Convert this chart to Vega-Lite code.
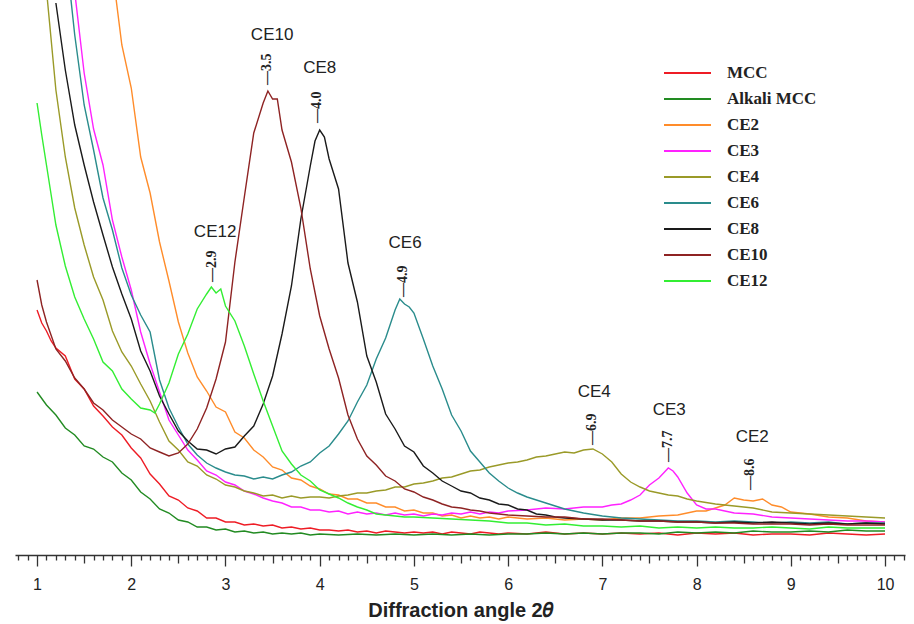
{
"$schema": "https://vega.github.io/schema/vega-lite/v6.json",
"width": 890, "height": 555,
"autosize": {"type": "none"},
"padding": {"left": 15, "top": 0, "right": 9, "bottom": 69},
"background": "white",
"config": {"view": {"stroke": null}, "font": "Liberation Sans"},
"datasets": {
"curves": [
{"s":"MCC","x":1,"y":245},{"s":"MCC","x":1.05,"y":232},{"s":"MCC","x":1.1,"y":224},{"s":"MCC","x":1.15,"y":214},{"s":"MCC","x":1.2,"y":207},{"s":"MCC","x":1.3,"y":199},{"s":"MCC","x":1.4,"y":176},{"s":"MCC","x":1.5,"y":166},{"s":"MCC","x":1.6,"y":149},{"s":"MCC","x":1.7,"y":139},{"s":"MCC","x":1.8,"y":128},{"s":"MCC","x":1.9,"y":120},{"s":"MCC","x":2,"y":107},{"s":"MCC","x":2.1,"y":97},{"s":"MCC","x":2.2,"y":81},{"s":"MCC","x":2.3,"y":71},{"s":"MCC","x":2.4,"y":59},{"s":"MCC","x":2.5,"y":55},{"s":"MCC","x":2.6,"y":47},{"s":"MCC","x":2.7,"y":44},{"s":"MCC","x":2.8,"y":37},{"s":"MCC","x":2.9,"y":37},{"s":"MCC","x":3,"y":33},{"s":"MCC","x":3.1,"y":33},{"s":"MCC","x":3.2,"y":30},{"s":"MCC","x":3.3,"y":31},{"s":"MCC","x":3.4,"y":29},{"s":"MCC","x":3.5,"y":30},{"s":"MCC","x":3.6,"y":27},{"s":"MCC","x":3.7,"y":28},{"s":"MCC","x":3.8,"y":26},{"s":"MCC","x":3.9,"y":27},{"s":"MCC","x":4,"y":25},{"s":"MCC","x":4.1,"y":25},{"s":"MCC","x":4.2,"y":24},{"s":"MCC","x":4.3,"y":25},{"s":"MCC","x":4.4,"y":23},{"s":"MCC","x":4.5,"y":24},{"s":"MCC","x":4.6,"y":22},{"s":"MCC","x":4.7,"y":24},{"s":"MCC","x":4.8,"y":23},{"s":"MCC","x":4.9,"y":22},{"s":"MCC","x":5,"y":23},{"s":"MCC","x":5.1,"y":22},{"s":"MCC","x":5.2,"y":23},{"s":"MCC","x":5.3,"y":21},{"s":"MCC","x":5.4,"y":23},{"s":"MCC","x":5.5,"y":22},{"s":"MCC","x":5.6,"y":21},{"s":"MCC","x":5.7,"y":23},{"s":"MCC","x":5.8,"y":22},{"s":"MCC","x":5.9,"y":21},{"s":"MCC","x":6,"y":22},{"s":"MCC","x":6.2,"y":21},{"s":"MCC","x":6.4,"y":23},{"s":"MCC","x":6.6,"y":21},{"s":"MCC","x":6.8,"y":22},{"s":"MCC","x":7,"y":21},{"s":"MCC","x":7.2,"y":22},{"s":"MCC","x":7.4,"y":21},{"s":"MCC","x":7.6,"y":22},{"s":"MCC","x":7.8,"y":20},{"s":"MCC","x":8,"y":22},{"s":"MCC","x":8.2,"y":21},{"s":"MCC","x":8.4,"y":22},{"s":"MCC","x":8.6,"y":20},{"s":"MCC","x":8.8,"y":21},{"s":"MCC","x":9,"y":21},{"s":"MCC","x":9.2,"y":20},{"s":"MCC","x":9.4,"y":22},{"s":"MCC","x":9.6,"y":21},{"s":"MCC","x":9.8,"y":20},{"s":"MCC","x":10,"y":21},
{"s":"Alkali MCC","x":1,"y":163},{"s":"Alkali MCC","x":1.1,"y":150},{"s":"Alkali MCC","x":1.2,"y":140},{"s":"Alkali MCC","x":1.3,"y":127},{"s":"Alkali MCC","x":1.4,"y":120},{"s":"Alkali MCC","x":1.5,"y":109},{"s":"Alkali MCC","x":1.6,"y":106},{"s":"Alkali MCC","x":1.7,"y":98},{"s":"Alkali MCC","x":1.8,"y":93},{"s":"Alkali MCC","x":1.9,"y":82},{"s":"Alkali MCC","x":2,"y":75},{"s":"Alkali MCC","x":2.1,"y":63},{"s":"Alkali MCC","x":2.2,"y":56},{"s":"Alkali MCC","x":2.3,"y":46},{"s":"Alkali MCC","x":2.4,"y":42},{"s":"Alkali MCC","x":2.5,"y":35},{"s":"Alkali MCC","x":2.6,"y":33},{"s":"Alkali MCC","x":2.7,"y":28},{"s":"Alkali MCC","x":2.8,"y":28},{"s":"Alkali MCC","x":2.9,"y":25},{"s":"Alkali MCC","x":3,"y":26},{"s":"Alkali MCC","x":3.1,"y":23},{"s":"Alkali MCC","x":3.2,"y":24},{"s":"Alkali MCC","x":3.3,"y":22},{"s":"Alkali MCC","x":3.4,"y":23},{"s":"Alkali MCC","x":3.5,"y":21},{"s":"Alkali MCC","x":3.6,"y":22},{"s":"Alkali MCC","x":3.7,"y":21},{"s":"Alkali MCC","x":3.8,"y":22},{"s":"Alkali MCC","x":3.9,"y":20},{"s":"Alkali MCC","x":4,"y":21},{"s":"Alkali MCC","x":4.2,"y":20},{"s":"Alkali MCC","x":4.4,"y":21},{"s":"Alkali MCC","x":4.6,"y":20},{"s":"Alkali MCC","x":4.8,"y":21},{"s":"Alkali MCC","x":5,"y":20},{"s":"Alkali MCC","x":5.2,"y":21},{"s":"Alkali MCC","x":5.4,"y":20},{"s":"Alkali MCC","x":5.6,"y":21},{"s":"Alkali MCC","x":5.8,"y":20},{"s":"Alkali MCC","x":6,"y":21},{"s":"Alkali MCC","x":6.2,"y":21},{"s":"Alkali MCC","x":6.4,"y":22},{"s":"Alkali MCC","x":6.6,"y":21},{"s":"Alkali MCC","x":6.8,"y":22},{"s":"Alkali MCC","x":7,"y":21},{"s":"Alkali MCC","x":7.2,"y":22},{"s":"Alkali MCC","x":7.4,"y":22},{"s":"Alkali MCC","x":7.6,"y":21},{"s":"Alkali MCC","x":7.8,"y":23},{"s":"Alkali MCC","x":8,"y":22},{"s":"Alkali MCC","x":8.2,"y":23},{"s":"Alkali MCC","x":8.4,"y":22},{"s":"Alkali MCC","x":8.6,"y":24},{"s":"Alkali MCC","x":8.8,"y":23},{"s":"Alkali MCC","x":9,"y":23},{"s":"Alkali MCC","x":9.2,"y":24},{"s":"Alkali MCC","x":9.4,"y":23},{"s":"Alkali MCC","x":9.6,"y":25},{"s":"Alkali MCC","x":9.8,"y":24},{"s":"Alkali MCC","x":10,"y":24},
{"s":"CE2","x":1.8,"y":585},{"s":"CE2","x":1.9,"y":510},{"s":"CE2","x":2,"y":467},{"s":"CE2","x":2.1,"y":398},{"s":"CE2","x":2.2,"y":362},{"s":"CE2","x":2.3,"y":313},{"s":"CE2","x":2.4,"y":274},{"s":"CE2","x":2.5,"y":233},{"s":"CE2","x":2.6,"y":202},{"s":"CE2","x":2.7,"y":178},{"s":"CE2","x":2.8,"y":164},{"s":"CE2","x":2.9,"y":148},{"s":"CE2","x":3,"y":143},{"s":"CE2","x":3.1,"y":123},{"s":"CE2","x":3.2,"y":117},{"s":"CE2","x":3.3,"y":105},{"s":"CE2","x":3.4,"y":98},{"s":"CE2","x":3.5,"y":88},{"s":"CE2","x":3.6,"y":85},{"s":"CE2","x":3.7,"y":77},{"s":"CE2","x":3.8,"y":75},{"s":"CE2","x":3.9,"y":69},{"s":"CE2","x":4,"y":66},{"s":"CE2","x":4.1,"y":61},{"s":"CE2","x":4.2,"y":60},{"s":"CE2","x":4.3,"y":56},{"s":"CE2","x":4.4,"y":56},{"s":"CE2","x":4.5,"y":52},{"s":"CE2","x":4.6,"y":52},{"s":"CE2","x":4.7,"y":48},{"s":"CE2","x":4.8,"y":48},{"s":"CE2","x":4.9,"y":44},{"s":"CE2","x":5,"y":45},{"s":"CE2","x":5.1,"y":42},{"s":"CE2","x":5.2,"y":42},{"s":"CE2","x":5.3,"y":39},{"s":"CE2","x":5.4,"y":40},{"s":"CE2","x":5.5,"y":37},{"s":"CE2","x":5.6,"y":39},{"s":"CE2","x":5.7,"y":37},{"s":"CE2","x":5.8,"y":38},{"s":"CE2","x":5.9,"y":36},{"s":"CE2","x":6,"y":38},{"s":"CE2","x":6.2,"y":36},{"s":"CE2","x":6.4,"y":37},{"s":"CE2","x":6.6,"y":35},{"s":"CE2","x":6.8,"y":36},{"s":"CE2","x":7,"y":35},{"s":"CE2","x":7.2,"y":37},{"s":"CE2","x":7.4,"y":37},{"s":"CE2","x":7.6,"y":39},{"s":"CE2","x":7.8,"y":40},{"s":"CE2","x":8,"y":44},{"s":"CE2","x":8.1,"y":44},{"s":"CE2","x":8.2,"y":47},{"s":"CE2","x":8.3,"y":50},{"s":"CE2","x":8.4,"y":57},{"s":"CE2","x":8.5,"y":55},{"s":"CE2","x":8.6,"y":54},{"s":"CE2","x":8.7,"y":56},{"s":"CE2","x":8.8,"y":50},{"s":"CE2","x":8.9,"y":48},{"s":"CE2","x":9,"y":43},{"s":"CE2","x":9.2,"y":41},{"s":"CE2","x":9.4,"y":38},{"s":"CE2","x":9.6,"y":37},{"s":"CE2","x":9.8,"y":34},{"s":"CE2","x":10,"y":33},
{"s":"CE3","x":1.3,"y":645},{"s":"CE3","x":1.4,"y":563},{"s":"CE3","x":1.5,"y":482},{"s":"CE3","x":1.6,"y":426},{"s":"CE3","x":1.7,"y":390},{"s":"CE3","x":1.8,"y":335},{"s":"CE3","x":1.9,"y":298},{"s":"CE3","x":2,"y":265},{"s":"CE3","x":2.1,"y":223},{"s":"CE3","x":2.2,"y":191},{"s":"CE3","x":2.3,"y":163},{"s":"CE3","x":2.4,"y":135},{"s":"CE3","x":2.5,"y":120},{"s":"CE3","x":2.6,"y":105},{"s":"CE3","x":2.7,"y":95},{"s":"CE3","x":2.8,"y":84},{"s":"CE3","x":2.9,"y":80},{"s":"CE3","x":3,"y":73},{"s":"CE3","x":3.1,"y":70},{"s":"CE3","x":3.2,"y":64},{"s":"CE3","x":3.3,"y":61},{"s":"CE3","x":3.4,"y":57},{"s":"CE3","x":3.5,"y":54},{"s":"CE3","x":3.6,"y":52},{"s":"CE3","x":3.7,"y":48},{"s":"CE3","x":3.8,"y":48},{"s":"CE3","x":3.9,"y":45},{"s":"CE3","x":4,"y":45},{"s":"CE3","x":4.1,"y":43},{"s":"CE3","x":4.2,"y":44},{"s":"CE3","x":4.3,"y":41},{"s":"CE3","x":4.4,"y":43},{"s":"CE3","x":4.5,"y":41},{"s":"CE3","x":4.6,"y":42},{"s":"CE3","x":4.7,"y":40},{"s":"CE3","x":4.8,"y":42},{"s":"CE3","x":4.9,"y":40},{"s":"CE3","x":5,"y":41},{"s":"CE3","x":5.1,"y":39},{"s":"CE3","x":5.2,"y":41},{"s":"CE3","x":5.3,"y":40},{"s":"CE3","x":5.4,"y":42},{"s":"CE3","x":5.5,"y":41},{"s":"CE3","x":5.6,"y":43},{"s":"CE3","x":5.7,"y":41},{"s":"CE3","x":5.8,"y":43},{"s":"CE3","x":5.9,"y":42},{"s":"CE3","x":6,"y":44},{"s":"CE3","x":6.2,"y":45},{"s":"CE3","x":6.4,"y":47},{"s":"CE3","x":6.6,"y":46},{"s":"CE3","x":6.8,"y":48},{"s":"CE3","x":7,"y":48},{"s":"CE3","x":7.1,"y":50},{"s":"CE3","x":7.2,"y":51},{"s":"CE3","x":7.3,"y":55},{"s":"CE3","x":7.4,"y":60},{"s":"CE3","x":7.5,"y":70},{"s":"CE3","x":7.6,"y":77},{"s":"CE3","x":7.65,"y":82},{"s":"CE3","x":7.7,"y":87},{"s":"CE3","x":7.75,"y":84},{"s":"CE3","x":7.8,"y":78},{"s":"CE3","x":7.9,"y":62},{"s":"CE3","x":8,"y":50},{"s":"CE3","x":8.1,"y":46},{"s":"CE3","x":8.2,"y":46},{"s":"CE3","x":8.4,"y":42},{"s":"CE3","x":8.6,"y":41},{"s":"CE3","x":8.8,"y":38},{"s":"CE3","x":9,"y":37},{"s":"CE3","x":9.2,"y":36},{"s":"CE3","x":9.4,"y":35},{"s":"CE3","x":9.6,"y":34},{"s":"CE3","x":9.8,"y":34},{"s":"CE3","x":10,"y":33},
{"s":"CE4","x":1.1,"y":565},{"s":"CE4","x":1.2,"y":465},{"s":"CE4","x":1.3,"y":398},{"s":"CE4","x":1.4,"y":347},{"s":"CE4","x":1.5,"y":310},{"s":"CE4","x":1.6,"y":278},{"s":"CE4","x":1.7,"y":255},{"s":"CE4","x":1.8,"y":224},{"s":"CE4","x":1.9,"y":203},{"s":"CE4","x":2,"y":189},{"s":"CE4","x":2.1,"y":171},{"s":"CE4","x":2.2,"y":154},{"s":"CE4","x":2.3,"y":133},{"s":"CE4","x":2.4,"y":114},{"s":"CE4","x":2.5,"y":105},{"s":"CE4","x":2.6,"y":93},{"s":"CE4","x":2.7,"y":89},{"s":"CE4","x":2.8,"y":80},{"s":"CE4","x":2.9,"y":76},{"s":"CE4","x":3,"y":70},{"s":"CE4","x":3.1,"y":68},{"s":"CE4","x":3.2,"y":64},{"s":"CE4","x":3.3,"y":62},{"s":"CE4","x":3.4,"y":59},{"s":"CE4","x":3.5,"y":60},{"s":"CE4","x":3.6,"y":57},{"s":"CE4","x":3.7,"y":59},{"s":"CE4","x":3.8,"y":57},{"s":"CE4","x":3.9,"y":58},{"s":"CE4","x":4,"y":58},{"s":"CE4","x":4.1,"y":57},{"s":"CE4","x":4.2,"y":59},{"s":"CE4","x":4.3,"y":60},{"s":"CE4","x":4.4,"y":62},{"s":"CE4","x":4.5,"y":62},{"s":"CE4","x":4.6,"y":64},{"s":"CE4","x":4.7,"y":65},{"s":"CE4","x":4.8,"y":68},{"s":"CE4","x":4.9,"y":68},{"s":"CE4","x":5,"y":71},{"s":"CE4","x":5.1,"y":72},{"s":"CE4","x":5.2,"y":74},{"s":"CE4","x":5.3,"y":77},{"s":"CE4","x":5.4,"y":78},{"s":"CE4","x":5.5,"y":81},{"s":"CE4","x":5.6,"y":84},{"s":"CE4","x":5.7,"y":85},{"s":"CE4","x":5.8,"y":88},{"s":"CE4","x":5.9,"y":90},{"s":"CE4","x":6,"y":92},{"s":"CE4","x":6.1,"y":93},{"s":"CE4","x":6.2,"y":95},{"s":"CE4","x":6.3,"y":98},{"s":"CE4","x":6.4,"y":99},{"s":"CE4","x":6.5,"y":101},{"s":"CE4","x":6.6,"y":103},{"s":"CE4","x":6.7,"y":102},{"s":"CE4","x":6.8,"y":105},{"s":"CE4","x":6.9,"y":106},{"s":"CE4","x":7,"y":101},{"s":"CE4","x":7.1,"y":93},{"s":"CE4","x":7.2,"y":81},{"s":"CE4","x":7.3,"y":73},{"s":"CE4","x":7.4,"y":68},{"s":"CE4","x":7.5,"y":64},{"s":"CE4","x":7.6,"y":62},{"s":"CE4","x":7.7,"y":60},{"s":"CE4","x":7.8,"y":59},{"s":"CE4","x":7.9,"y":56},{"s":"CE4","x":8,"y":54},{"s":"CE4","x":8.2,"y":51},{"s":"CE4","x":8.4,"y":49},{"s":"CE4","x":8.6,"y":47},{"s":"CE4","x":8.8,"y":43},{"s":"CE4","x":9,"y":42},{"s":"CE4","x":9.2,"y":41},{"s":"CE4","x":9.4,"y":40},{"s":"CE4","x":9.6,"y":39},{"s":"CE4","x":9.8,"y":38},{"s":"CE4","x":10,"y":37},
{"s":"CE6","x":1.3,"y":608},{"s":"CE6","x":1.4,"y":520},{"s":"CE6","x":1.5,"y":450},{"s":"CE6","x":1.6,"y":405},{"s":"CE6","x":1.7,"y":357},{"s":"CE6","x":1.8,"y":325},{"s":"CE6","x":1.9,"y":287},{"s":"CE6","x":2,"y":260},{"s":"CE6","x":2.1,"y":240},{"s":"CE6","x":2.2,"y":223},{"s":"CE6","x":2.3,"y":175},{"s":"CE6","x":2.4,"y":147},{"s":"CE6","x":2.5,"y":128},{"s":"CE6","x":2.6,"y":111},{"s":"CE6","x":2.7,"y":100},{"s":"CE6","x":2.8,"y":92},{"s":"CE6","x":2.9,"y":87},{"s":"CE6","x":3,"y":83},{"s":"CE6","x":3.1,"y":80},{"s":"CE6","x":3.2,"y":79},{"s":"CE6","x":3.3,"y":76},{"s":"CE6","x":3.4,"y":78},{"s":"CE6","x":3.5,"y":76},{"s":"CE6","x":3.6,"y":80},{"s":"CE6","x":3.7,"y":83},{"s":"CE6","x":3.8,"y":89},{"s":"CE6","x":3.9,"y":93},{"s":"CE6","x":4,"y":102},{"s":"CE6","x":4.1,"y":109},{"s":"CE6","x":4.2,"y":121},{"s":"CE6","x":4.3,"y":134},{"s":"CE6","x":4.4,"y":153},{"s":"CE6","x":4.5,"y":170},{"s":"CE6","x":4.6,"y":196},{"s":"CE6","x":4.7,"y":217},{"s":"CE6","x":4.8,"y":245},{"s":"CE6","x":4.85,"y":256},{"s":"CE6","x":4.9,"y":251},{"s":"CE6","x":4.95,"y":248},{"s":"CE6","x":5,"y":242},{"s":"CE6","x":5.1,"y":216},{"s":"CE6","x":5.2,"y":189},{"s":"CE6","x":5.3,"y":166},{"s":"CE6","x":5.4,"y":140},{"s":"CE6","x":5.5,"y":124},{"s":"CE6","x":5.6,"y":104},{"s":"CE6","x":5.7,"y":93},{"s":"CE6","x":5.8,"y":82},{"s":"CE6","x":5.9,"y":74},{"s":"CE6","x":6,"y":67},{"s":"CE6","x":6.1,"y":62},{"s":"CE6","x":6.2,"y":58},{"s":"CE6","x":6.3,"y":55},{"s":"CE6","x":6.4,"y":52},{"s":"CE6","x":6.5,"y":49},{"s":"CE6","x":6.6,"y":46},{"s":"CE6","x":6.7,"y":44},{"s":"CE6","x":6.8,"y":42},{"s":"CE6","x":7,"y":39},{"s":"CE6","x":7.2,"y":37},{"s":"CE6","x":7.4,"y":36},{"s":"CE6","x":7.6,"y":35},{"s":"CE6","x":7.8,"y":34},{"s":"CE6","x":8,"y":34},{"s":"CE6","x":8.2,"y":33},{"s":"CE6","x":8.4,"y":34},{"s":"CE6","x":8.6,"y":33},{"s":"CE6","x":8.8,"y":32},{"s":"CE6","x":9,"y":33},{"s":"CE6","x":9.2,"y":32},{"s":"CE6","x":9.4,"y":33},{"s":"CE6","x":9.6,"y":31},{"s":"CE6","x":9.8,"y":32},{"s":"CE6","x":10,"y":32},
{"s":"CE8","x":1.2,"y":552},{"s":"CE8","x":1.3,"y":485},{"s":"CE8","x":1.4,"y":430},{"s":"CE8","x":1.5,"y":390},{"s":"CE8","x":1.6,"y":353},{"s":"CE8","x":1.7,"y":320},{"s":"CE8","x":1.8,"y":288},{"s":"CE8","x":1.9,"y":261},{"s":"CE8","x":2,"y":236},{"s":"CE8","x":2.1,"y":204},{"s":"CE8","x":2.2,"y":184},{"s":"CE8","x":2.3,"y":159},{"s":"CE8","x":2.4,"y":141},{"s":"CE8","x":2.5,"y":124},{"s":"CE8","x":2.6,"y":114},{"s":"CE8","x":2.7,"y":106},{"s":"CE8","x":2.8,"y":105},{"s":"CE8","x":2.9,"y":101},{"s":"CE8","x":3,"y":106},{"s":"CE8","x":3.1,"y":108},{"s":"CE8","x":3.2,"y":119},{"s":"CE8","x":3.3,"y":129},{"s":"CE8","x":3.4,"y":151},{"s":"CE8","x":3.5,"y":179},{"s":"CE8","x":3.6,"y":221},{"s":"CE8","x":3.7,"y":269},{"s":"CE8","x":3.8,"y":336},{"s":"CE8","x":3.9,"y":389},{"s":"CE8","x":3.95,"y":414},{"s":"CE8","x":4,"y":425},{"s":"CE8","x":4.05,"y":418},{"s":"CE8","x":4.1,"y":396},{"s":"CE8","x":4.2,"y":366},{"s":"CE8","x":4.3,"y":292},{"s":"CE8","x":4.4,"y":253},{"s":"CE8","x":4.5,"y":199},{"s":"CE8","x":4.6,"y":173},{"s":"CE8","x":4.7,"y":141},{"s":"CE8","x":4.8,"y":126},{"s":"CE8","x":4.9,"y":109},{"s":"CE8","x":5,"y":103},{"s":"CE8","x":5.1,"y":89},{"s":"CE8","x":5.2,"y":82},{"s":"CE8","x":5.3,"y":74},{"s":"CE8","x":5.4,"y":69},{"s":"CE8","x":5.5,"y":64},{"s":"CE8","x":5.6,"y":62},{"s":"CE8","x":5.7,"y":57},{"s":"CE8","x":5.8,"y":55},{"s":"CE8","x":5.9,"y":51},{"s":"CE8","x":6,"y":50},{"s":"CE8","x":6.1,"y":46},{"s":"CE8","x":6.2,"y":45},{"s":"CE8","x":6.3,"y":41},{"s":"CE8","x":6.4,"y":40},{"s":"CE8","x":6.5,"y":38},{"s":"CE8","x":6.6,"y":37},{"s":"CE8","x":6.8,"y":36},{"s":"CE8","x":7,"y":35},{"s":"CE8","x":7.2,"y":35},{"s":"CE8","x":7.4,"y":34},{"s":"CE8","x":7.6,"y":34},{"s":"CE8","x":7.8,"y":33},{"s":"CE8","x":8,"y":33},{"s":"CE8","x":8.2,"y":32},{"s":"CE8","x":8.4,"y":33},{"s":"CE8","x":8.6,"y":32},{"s":"CE8","x":8.8,"y":33},{"s":"CE8","x":9,"y":32},{"s":"CE8","x":9.2,"y":31},{"s":"CE8","x":9.4,"y":32},{"s":"CE8","x":9.6,"y":31},{"s":"CE8","x":9.8,"y":32},{"s":"CE8","x":10,"y":31},
{"s":"CE10","x":1,"y":275},{"s":"CE10","x":1.05,"y":250},{"s":"CE10","x":1.1,"y":233},{"s":"CE10","x":1.2,"y":206},{"s":"CE10","x":1.3,"y":194},{"s":"CE10","x":1.4,"y":177},{"s":"CE10","x":1.5,"y":166},{"s":"CE10","x":1.6,"y":152},{"s":"CE10","x":1.7,"y":145},{"s":"CE10","x":1.8,"y":135},{"s":"CE10","x":1.9,"y":128},{"s":"CE10","x":2,"y":121},{"s":"CE10","x":2.1,"y":116},{"s":"CE10","x":2.2,"y":107},{"s":"CE10","x":2.3,"y":103},{"s":"CE10","x":2.4,"y":99},{"s":"CE10","x":2.5,"y":102},{"s":"CE10","x":2.6,"y":111},{"s":"CE10","x":2.7,"y":126},{"s":"CE10","x":2.8,"y":147},{"s":"CE10","x":2.9,"y":176},{"s":"CE10","x":3,"y":213},{"s":"CE10","x":3.1,"y":293},{"s":"CE10","x":3.2,"y":358},{"s":"CE10","x":3.3,"y":422},{"s":"CE10","x":3.4,"y":452},{"s":"CE10","x":3.45,"y":464},{"s":"CE10","x":3.5,"y":456},{"s":"CE10","x":3.55,"y":456},{"s":"CE10","x":3.6,"y":425},{"s":"CE10","x":3.7,"y":393},{"s":"CE10","x":3.8,"y":347},{"s":"CE10","x":3.9,"y":286},{"s":"CE10","x":4,"y":239},{"s":"CE10","x":4.1,"y":206},{"s":"CE10","x":4.2,"y":177},{"s":"CE10","x":4.3,"y":140},{"s":"CE10","x":4.4,"y":116},{"s":"CE10","x":4.5,"y":99},{"s":"CE10","x":4.6,"y":90},{"s":"CE10","x":4.7,"y":79},{"s":"CE10","x":4.8,"y":74},{"s":"CE10","x":4.9,"y":66},{"s":"CE10","x":5,"y":63},{"s":"CE10","x":5.1,"y":58},{"s":"CE10","x":5.2,"y":55},{"s":"CE10","x":5.3,"y":51},{"s":"CE10","x":5.4,"y":48},{"s":"CE10","x":5.5,"y":47},{"s":"CE10","x":5.6,"y":45},{"s":"CE10","x":5.7,"y":44},{"s":"CE10","x":5.8,"y":42},{"s":"CE10","x":5.9,"y":41},{"s":"CE10","x":6,"y":40},{"s":"CE10","x":6.2,"y":39},{"s":"CE10","x":6.4,"y":38},{"s":"CE10","x":6.6,"y":38},{"s":"CE10","x":6.8,"y":36},{"s":"CE10","x":7,"y":36},{"s":"CE10","x":7.2,"y":35},{"s":"CE10","x":7.4,"y":34},{"s":"CE10","x":7.6,"y":34},{"s":"CE10","x":7.8,"y":33},{"s":"CE10","x":8,"y":33},{"s":"CE10","x":8.2,"y":32},{"s":"CE10","x":8.4,"y":32},{"s":"CE10","x":8.6,"y":31},{"s":"CE10","x":8.8,"y":31},{"s":"CE10","x":9,"y":31},{"s":"CE10","x":9.2,"y":30},{"s":"CE10","x":9.4,"y":31},{"s":"CE10","x":9.6,"y":30},{"s":"CE10","x":9.8,"y":30},{"s":"CE10","x":10,"y":30},
{"s":"CE12","x":1,"y":452},{"s":"CE12","x":1.05,"y":420},{"s":"CE12","x":1.1,"y":390},{"s":"CE12","x":1.15,"y":360},{"s":"CE12","x":1.2,"y":330},{"s":"CE12","x":1.3,"y":289},{"s":"CE12","x":1.4,"y":258},{"s":"CE12","x":1.5,"y":236},{"s":"CE12","x":1.6,"y":216},{"s":"CE12","x":1.7,"y":193},{"s":"CE12","x":1.8,"y":184},{"s":"CE12","x":1.9,"y":166},{"s":"CE12","x":2,"y":156},{"s":"CE12","x":2.1,"y":147},{"s":"CE12","x":2.2,"y":145},{"s":"CE12","x":2.25,"y":142},{"s":"CE12","x":2.3,"y":151},{"s":"CE12","x":2.4,"y":172},{"s":"CE12","x":2.5,"y":201},{"s":"CE12","x":2.6,"y":221},{"s":"CE12","x":2.7,"y":246},{"s":"CE12","x":2.8,"y":261},{"s":"CE12","x":2.85,"y":268},{"s":"CE12","x":2.9,"y":262},{"s":"CE12","x":2.95,"y":266},{"s":"CE12","x":3,"y":249},{"s":"CE12","x":3.1,"y":234},{"s":"CE12","x":3.2,"y":209},{"s":"CE12","x":3.3,"y":181},{"s":"CE12","x":3.4,"y":154},{"s":"CE12","x":3.5,"y":129},{"s":"CE12","x":3.6,"y":104},{"s":"CE12","x":3.7,"y":91},{"s":"CE12","x":3.8,"y":80},{"s":"CE12","x":3.9,"y":74},{"s":"CE12","x":4,"y":65},{"s":"CE12","x":4.1,"y":61},{"s":"CE12","x":4.2,"y":57},{"s":"CE12","x":4.3,"y":52},{"s":"CE12","x":4.4,"y":48},{"s":"CE12","x":4.5,"y":45},{"s":"CE12","x":4.6,"y":41},{"s":"CE12","x":4.7,"y":40},{"s":"CE12","x":4.8,"y":39},{"s":"CE12","x":4.9,"y":38},{"s":"CE12","x":5,"y":38},{"s":"CE12","x":5.2,"y":37},{"s":"CE12","x":5.4,"y":36},{"s":"CE12","x":5.6,"y":35},{"s":"CE12","x":5.8,"y":34},{"s":"CE12","x":6,"y":32},{"s":"CE12","x":6.2,"y":32},{"s":"CE12","x":6.4,"y":30},{"s":"CE12","x":6.6,"y":31},{"s":"CE12","x":6.8,"y":29},{"s":"CE12","x":7,"y":29},{"s":"CE12","x":7.2,"y":28},{"s":"CE12","x":7.4,"y":29},{"s":"CE12","x":7.6,"y":27},{"s":"CE12","x":7.8,"y":28},{"s":"CE12","x":8,"y":27},{"s":"CE12","x":8.2,"y":28},{"s":"CE12","x":8.4,"y":27},{"s":"CE12","x":8.6,"y":27},{"s":"CE12","x":8.8,"y":28},{"s":"CE12","x":9,"y":27},{"s":"CE12","x":9.2,"y":26},{"s":"CE12","x":9.4,"y":28},{"s":"CE12","x":9.6,"y":27},{"s":"CE12","x":9.8,"y":27},{"s":"CE12","x":10,"y":27}
],
"names": [
{"t":"CE10","x":3.495,"y":520},{"t":"CE8","x":4.0,"y":487},{"t":"CE12","x":2.89,"y":323},{"t":"CE6","x":4.906,"y":312},{"t":"CE4","x":6.913,"y":163},{"t":"CE3","x":7.709,"y":145},{"t":"CE2","x":8.59,"y":118}
],
"peaks": [
{"t":"—3.5","x":3.44,"y":470},{"t":"—4.0","x":3.97,"y":432},{"t":"—2.9","x":2.86,"y":273},{"t":"—4.9","x":4.885,"y":258},{"t":"—6.9","x":6.89,"y":110},{"t":"—7.7","x":7.7,"y":93},{"t":"—8.6","x":8.57,"y":65}
]
},
"layer": [
{
"data": {"name": "curves"},
"mark": {"type": "line", "strokeWidth": 1.4, "clip": true},
"encoding": {
"x": {"field": "x", "type": "quantitative",
"scale": {"domain": [0.766, 10.212], "nice": false, "zero": false},
"axis": {
"values": [0.8,0.9,1,1.1,1.2,1.3,1.4,1.5,1.6,1.7,1.8,1.9,2,2.1,2.2,2.3,2.4,2.5,2.6,2.7,2.8,2.9,3,3.1,3.2,3.3,3.4,3.5,3.6,3.7,3.8,3.9,4,4.1,4.2,4.3,4.4,4.5,4.6,4.7,4.8,4.9,5,5.1,5.2,5.3,5.4,5.5,5.6,5.7,5.8,5.9,6,6.1,6.2,6.3,6.4,6.5,6.6,6.7,6.8,6.9,7,7.1,7.2,7.3,7.4,7.5,7.6,7.7,7.8,7.9,8,8.1,8.2,8.3,8.4,8.5,8.6,8.7,8.8,8.9,9,9.1,9.2,9.3,9.4,9.5,9.6,9.7,9.8,9.9,10,10.1,10.2],
"tickCount": 200,
"tickSize": {"condition": [{"test": "abs(datum.value - round(datum.value)) < 0.01", "value": 11}, {"test": "abs(datum.value*2 - round(datum.value*2)) < 0.01", "value": 8}], "value": 5},
"labelExpr": "abs(datum.value - round(datum.value)) < 0.01 ? format(datum.value, 'd') : ''",
"labelOverlap": false, "labelFlush": false,
"labelFont": "Liberation Sans", "labelFontSize": 16, "labelColor": "#222", "labelPadding": 10,
"grid": false,
"domainColor": "#333", "domainWidth": 1.5, "tickColor": "#333", "tickWidth": 1.3,
"title": "Diffraction angle  2𝜃",
"titleFont": "Liberation Sans", "titleFontSize": 20, "titleFontWeight": "bold", "titleColor": "#222", "titlePadding": 8
}},
"y": {"field": "y", "type": "quantitative", "scale": {"domain": [0, 555], "nice": false, "zero": false}, "axis": null},
"color": {"field": "s", "type": "nominal",
"scale": {"domain": ["MCC","Alkali MCC","CE2","CE3","CE4","CE6","CE8","CE10","CE12"],
"range": ["#ee1c25","#228b22","#ff8c2a","#ff22ff","#9a9a28","#2a8c8c","#1a1a1a","#8e2323","#33ee33"]},
"legend": {"orient": "none", "legendX": 648, "legendY": 60.3, "title": null, "symbolType": "stroke", "symbolSize": 2209, "symbolStrokeWidth": 2, "clipHeight": 25.4, "rowPadding": 0, "labelOffset": 15, "symbolOffset": 0, "padding": 0, "labelFont": "Liberation Serif", "labelFontWeight": "bold", "labelFontSize": 17, "labelColor": "#222"}
}
}
},
{
"data": {"name": "names"},
"mark": {"type": "text", "font": "Liberation Sans", "fontSize": 17, "color": "#222", "baseline": "middle", "align": "center"},
"encoding": {
"x": {"field": "x", "type": "quantitative"},
"y": {"field": "y", "type": "quantitative"},
"text": {"field": "t"}
}
},
{
"data": {"name": "peaks"},
"mark": {"type": "text", "font": "Liberation Serif", "fontWeight": "bold", "fontSize": 14, "color": "#222", "angle": 270, "align": "left", "baseline": "middle"},
"encoding": {
"x": {"field": "x", "type": "quantitative"},
"y": {"field": "y", "type": "quantitative"},
"text": {"field": "t"}
}
}
]
}
